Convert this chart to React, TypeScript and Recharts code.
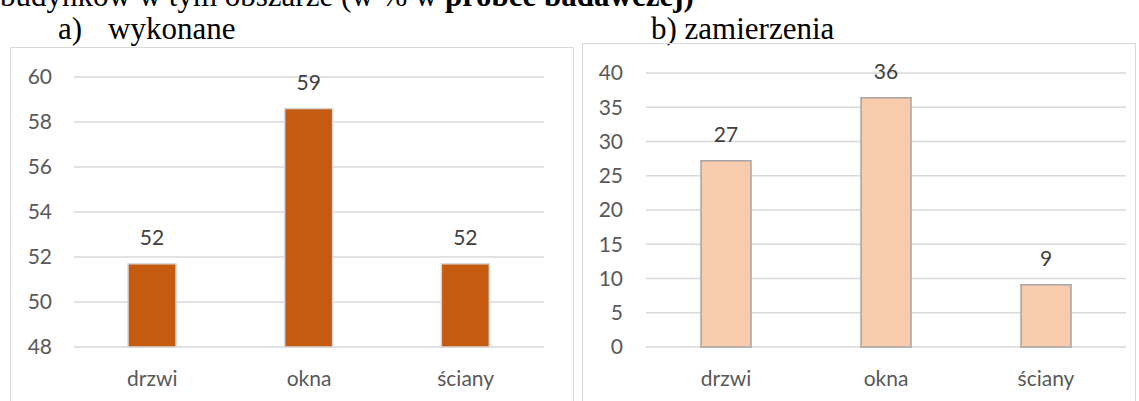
import { BarChart, Bar, XAxis, YAxis, CartesianGrid, LabelList } from "recharts";

const categories = ["drzwi", "okna", "ściany"];
const doneValues = [51.7, 58.6, 51.7];
const plannedValues = [27.2, 36.4, 9.1];
const doneTicks = [48, 50, 52, 54, 56, 58, 60];
const plannedTicks = [0, 5, 10, 15, 20, 25, 30, 35, 40];

const doneData = categories.map((c, i) => ({ name: c, value: doneValues[i] }));
const plannedData = categories.map((c, i) => ({ name: c, value: plannedValues[i] }));

const font = "Lato, 'Open Sans', sans-serif";
const tickStyle = { fill: "#595959", fontSize: 21, fontFamily: font };
const labelStyle = { fill: "#404040", fontSize: 21, fontFamily: font };
const serif = "'Liberation Serif', 'Times New Roman', serif";

const panel = (left: number, top: number, width: number) => ({
  position: "absolute" as const,
  left,
  top,
  width,
  height: 400,
  boxSizing: "border-box" as const,
  border: "1.5px solid #d9d9d9",
});

export default function App() {
  return (
    <div
      style={{
        position: "absolute",
        left: 0,
        top: 0,
        width: 1139,
        height: 401,
        overflow: "hidden",
        background: "#fff",
        fontFamily: serif,
        color: "#000",
      }}
    >
      <div style={{ position: "absolute", left: 0, top: -24, fontSize: 31, whiteSpace: "nowrap", lineHeight: "40px" }}>
        budynków w tym obszarze (w % w <b>próbce badawczej)</b>
      </div>
      <div style={{ position: "absolute", left: 58, top: 9, fontSize: 31, lineHeight: "40px" }}>a)</div>
      <div style={{ position: "absolute", left: 108, top: 9, fontSize: 31, lineHeight: "40px" }}>wykonane</div>
      <div style={{ position: "absolute", left: 651, top: 9, fontSize: 31, lineHeight: "40px" }}>b) zamierzenia</div>

      <div style={panel(10, 47, 564)} />
      <div style={panel(582, 43, 554)} />

      <div style={{ position: "absolute", left: 10, top: 47 }}>
        <BarChart width={564} height={354} data={doneData} margin={{ top: 30, right: 30, left: 0, bottom: 24 }}>
          <CartesianGrid vertical={false} stroke="#d9d9d9" strokeWidth={1.5} />
          <XAxis dataKey="name" axisLine={false} tickLine={false} tickSize={0} tickMargin={24} height={30} tick={tickStyle} />
          <YAxis
            domain={[48, 60]}
            ticks={doneTicks}
            width={64}
            axisLine={false}
            tickLine={false}
            tickSize={0}
            tickMargin={22}
            tick={tickStyle}
          />
          <Bar dataKey="value" fill="#c55a11" stroke="#d9d9d9" strokeWidth={1.5} barSize={48} isAnimationActive={false}>
            <LabelList dataKey="value" position="top" offset={19} style={labelStyle} formatter={(v: number) => Math.round(v)} />
          </Bar>
        </BarChart>
      </div>

      <div style={{ position: "absolute", left: 582, top: 43 }}>
        <BarChart width={554} height={358} data={plannedData} margin={{ top: 30, right: 10, left: 0, bottom: 24 }}>
          <CartesianGrid vertical={false} stroke="#d9d9d9" strokeWidth={1.5} />
          <XAxis dataKey="name" axisLine={false} tickLine={false} tickSize={0} tickMargin={24} height={30} tick={tickStyle} />
          <YAxis
            domain={[0, 40]}
            ticks={plannedTicks}
            width={64}
            axisLine={false}
            tickLine={false}
            tickSize={0}
            tickMargin={23}
            tick={tickStyle}
          />
          <Bar dataKey="value" fill="#f8cbad" stroke="#a5a5a5" strokeWidth={1.5} barSize={50} isAnimationActive={false}>
            <LabelList dataKey="value" position="top" offset={19} style={labelStyle} formatter={(v: number) => Math.round(v)} />
          </Bar>
        </BarChart>
      </div>
    </div>
  );
}
